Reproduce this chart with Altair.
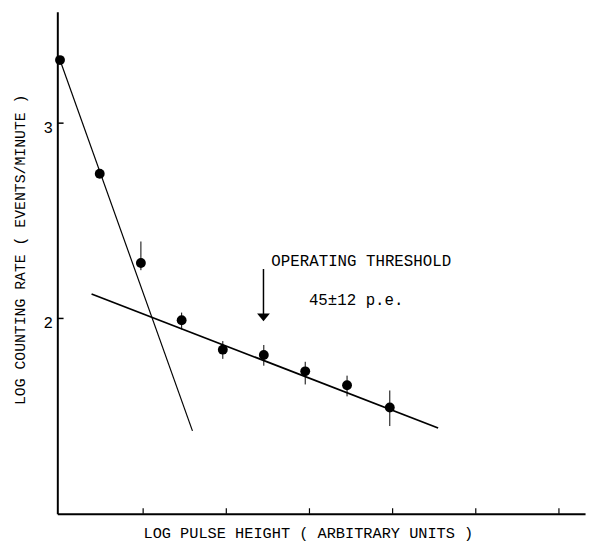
import altair as alt
import pandas as pd

# ---- data ----
pulse = [0.0, 0.478, 0.973, 1.463, 1.958, 2.451, 2.949, 3.452, 3.966]
rate = [3.323, 2.741, 2.284, 1.991, 1.840, 1.813, 1.729, 1.658, 1.544]

err_x = [0.973, 1.463, 1.958, 2.451, 2.949, 3.452, 3.966]
err_lo = [2.247, 1.944, 1.793, 1.758, 1.662, 1.601, 1.449]
err_hi = [2.394, 2.030, 1.884, 1.864, 1.778, 1.707, 1.631]

steep_x = [0.0, 1.593]
steep_y = [3.323, 1.424]
shallow_x = [0.380, 4.547]
shallow_y = [2.125, 1.439]

x_ticks = [1, 2, 3, 4, 5, 6]
y_ticks = [2, 3]

arrow_x = [2.447]
arrow_top = [2.253]
arrow_bottom = [2.02]
arrow_head_y = [2.005]

ann_text = ["OPERATING THRESHOLD", "45±12 p.e."]
ann_x = [2.542, 2.993]
ann_y = [2.268, 2.071]

X_MIN, X_MAX = -0.032, 6.314
Y_MIN, Y_MAX = 1.0, 3.571

FONT = "Liberation Mono"

xs = alt.Scale(domain=[X_MIN, X_MAX], nice=False, zero=False)
ys = alt.Scale(domain=[Y_MIN, Y_MAX], nice=False, zero=False)

x_axis = alt.Axis(
    title="LOG PULSE HEIGHT ( ARBITRARY UNITS )", labels=False, ticks=False, grid=False,
    domainColor="black", domainWidth=2, titleFont=FONT, titleFontSize=15.5,
    titleFontWeight="normal", titleColor="black", titleX=254, titleY=19.5,
    titleAlign="center", titleBaseline="middle",
)
y_axis = alt.Axis(
    title="LOG COUNTING RATE ( EVENTS/MINUTE )", values=y_ticks, format="d", ticks=False, tickSize=0,
    grid=False, domainColor="black", domainWidth=2, labelFont=FONT, labelFontSize=16,
    labelColor="black", labelPadding=5, labelOffset=4, labelBaseline="middle",
    titleFont=FONT, titleFontSize=15, titleFontWeight="normal", titleColor="black",
    titleX=-38, titleY=241, titleAngle=270, titleAlign="center", titleBaseline="middle",
)

pts_df = pd.DataFrame({"x": pulse, "y": rate})
err_df = pd.DataFrame({"x": err_x, "lo": err_lo, "hi": err_hi})
steep_df = pd.DataFrame({"x": steep_x, "y": steep_y})
shallow_df = pd.DataFrame({"x": shallow_x, "y": shallow_y})
xt_df = pd.DataFrame({"x": x_ticks, "y0": [Y_MIN] * len(x_ticks), "y1": [Y_MIN + 0.028] * len(x_ticks)})
yt_df = pd.DataFrame({"y": y_ticks, "x0": [X_MIN] * len(y_ticks), "x1": [X_MIN + 0.075] * len(y_ticks)})
arrow_df = pd.DataFrame({"x": arrow_x, "y0": arrow_top, "y1": arrow_bottom, "yh": arrow_head_y})
ann_df = pd.DataFrame({"x": ann_x, "y": ann_y, "t": ann_text})

points = alt.Chart(pts_df).mark_point(filled=True, color="black", size=100, opacity=1).encode(
    x=alt.X("x:Q", scale=xs, axis=x_axis),
    y=alt.Y("y:Q", scale=ys, axis=y_axis),
)

errs = alt.Chart(err_df).mark_rule(color="black", strokeWidth=1).encode(
    x=alt.X("x:Q", scale=xs), y=alt.Y("lo:Q", scale=ys), y2="hi:Q"
)

steep = alt.Chart(steep_df).mark_line(color="black", strokeWidth=1.2).encode(
    x=alt.X("x:Q", scale=xs), y=alt.Y("y:Q", scale=ys)
)
shallow = alt.Chart(shallow_df).mark_line(color="black", strokeWidth=1.8).encode(
    x=alt.X("x:Q", scale=xs), y=alt.Y("y:Q", scale=ys)
)

xticks = alt.Chart(xt_df).mark_rule(color="black", strokeWidth=1.2).encode(
    x=alt.X("x:Q", scale=xs), y=alt.Y("y0:Q", scale=ys), y2="y1:Q"
)
yticks = alt.Chart(yt_df).mark_rule(color="black", strokeWidth=1.5).encode(
    y=alt.Y("y:Q", scale=ys), x=alt.X("x0:Q", scale=xs), x2="x1:Q"
)

arrow_line = alt.Chart(arrow_df).mark_rule(color="black", strokeWidth=1.5).encode(
    x=alt.X("x:Q", scale=xs), y=alt.Y("y0:Q", scale=ys), y2="y1:Q"
)
arrow_head = alt.Chart(arrow_df).mark_point(
    shape="M-1,-0.6L1,-0.6L0,0.6Z", filled=True, color="black", size=169, opacity=1
).encode(x=alt.X("x:Q", scale=xs), y=alt.Y("yh:Q", scale=ys))

ann = alt.Chart(ann_df).mark_text(
    align="left", baseline="alphabetic", font=FONT, fontSize=16, color="black"
).encode(x=alt.X("x:Q", scale=xs), y=alt.Y("y:Q", scale=ys), text="t:N")

chart = alt.layer(
    steep, shallow, errs, points, xticks, yticks, arrow_line, arrow_head, ann
).properties(
    width=535, height=509,
    autosize=alt.AutoSizeParams(type="none"),
    padding={"left": 50, "top": 0, "right": 4, "bottom": 27},
    background="white",
).configure_view(strokeWidth=0)

chart.save("out.html", embed_options={"renderer": "svg", "actions": False})
